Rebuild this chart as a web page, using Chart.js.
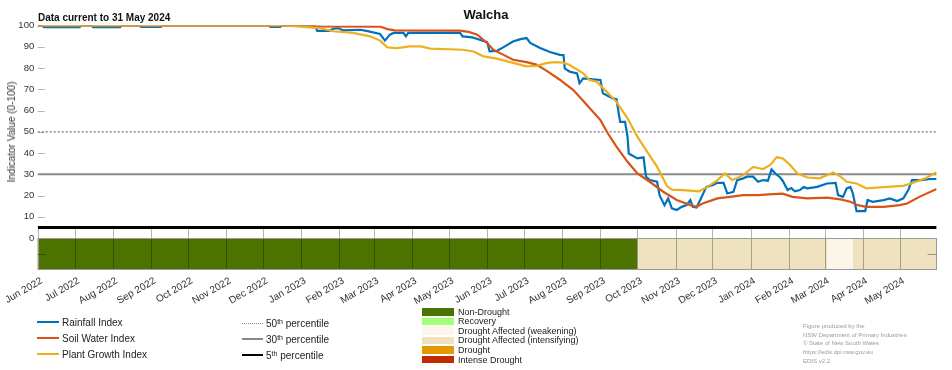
<!DOCTYPE html>
<html><head><meta charset="utf-8">
<script src="https://cdn.jsdelivr.net/npm/chart.js@4.4.1/dist/chart.umd.min.js"></script>
<style>
html,body{margin:0;padding:0;background:#fff;}
#wrap{position:relative;width:952px;height:370px;font-family:"Liberation Sans",Arial,sans-serif;color:#222;overflow:hidden;}
#c{position:absolute;left:0;top:0;}
.t{position:absolute;white-space:nowrap;line-height:1;}
.row{position:absolute;display:flex;align-items:center;white-space:nowrap;}
sup{font-size:70%;line-height:0;vertical-align:0.45em;}
</style></head><body>
<div id="wrap">
<canvas id="c" width="952" height="370"></canvas>
<div class="t" style="left:38px;top:13px;font-size:10px;font-weight:bold;color:#111;">Data current to 31 May 2024</div>
<div class="t" style="left:486px;top:8px;font-size:13px;font-weight:bold;color:#111;transform:translateX(-50%);">Walcha</div>
<div class="t" style="left:12px;top:132px;font-size:10px;color:#333;transform:translate(-50%,-50%) rotate(-90deg);">Indicator Value (0-100)</div>
<div id="legA"></div><div id="legB"></div><div id="legC"></div><div id="credits"></div>
</div>
<script>
// ---------- data ----------
const monthLabels = ["Jun 2022","Jul 2022","Aug 2022","Sep 2022","Oct 2022","Nov 2022","Dec 2022","Jan 2023","Feb 2023","Mar 2023","Apr 2023","May 2023","Jun 2023","Jul 2023","Aug 2023","Sep 2023","Oct 2023","Nov 2023","Dec 2023","Jan 2024","Feb 2024","Mar 2024","Apr 2024","May 2024"];
// day offsets from 1 Jun 2022
const monthDays = [0,30,61,92,122,153,183,214,245,273,304,334,365,395,426,457,487,518,548,579,610,639,670,700];
const lastDay = 730; // 31 May 2024

// [day, value]
const rainfallIndex = [[0,100],[4,100],[5,99.2],[34,99.2],[35,100],[44,100],[45,99.2],[67,99.2],[68,100],[83,100],[84,99.3],[100,99.3],[101,100],[188,100],[189,99.3],[197,99.3],[198,100],[225,100],[227,97.5],[237,97.5],[240,98.5],[244,98.8],[248,97.7],[262,98],[267,97.5],[278,96],[282,92.9],[286,95.7],[289,96.5],[297,96.5],[299,94.9],[301,96.5],[343,96.5],[345,94.9],[353,94.4],[359,93.3],[365,92.2],[367,87.8],[373,88.1],[378,89.7],[386,92.5],[392,93.6],[397,94.1],[400,91.8],[408,89.4],[416,87.5],[424,86.2],[427,86.1],[428,79.8],[432,78.3],[438,77.5],[440,72.8],[443,75.1],[451,74.7],[457,74.4],[459,68.1],[467,65.7],[470,65.3],[473,54.7],[477,54.7],[479,47.7],[480,39.8],[487,37.5],[492,38],[494,28.9],[497,27.3],[503,26.5],[505,20.2],[509,15.5],[512,18.7],[515,14],[519,13.2],[523,14.7],[527,15.5],[530,17.9],[532,14.7],[535,14.4],[538,17.9],[543,24.1],[548,24.9],[552,26],[557,26],[560,21],[565,21.8],[568,27.3],[573,28.1],[576,28.9],[581,28.9],[585,26.5],[589,27.3],[593,27],[596,32.3],[599,30.4],[603,28.5],[605,27],[609,22.6],[612,23.5],[615,22],[619,22.6],[622,24],[625,23.4],[633,24.1],[641,25.7],[648,26],[650,20.2],[654,19.4],[657,23.4],[660,24.1],[662,21],[665,12.7],[672,12.7],[674,17.9],[678,17.1],[687,17.9],[692,18.7],[698,17.4],[703,18.7],[707,22.6],[710,27.3],[717,27.3],[725,27.8],[730,27.8]];
const soilWaterIndex = [[0,100],[213,100],[230,99.6],[278,99.5],[284,98.3],[290,97.7],[343,97.6],[350,97],[357,95.7],[365,91.8],[370,88.6],[378,86.3],[386,83.9],[397,82.8],[405,81.6],[414,78.4],[424,74.5],[435,69.6],[446,62.6],[457,55.5],[463,49.3],[470,43],[479,35.9],[487,30.4],[497,26.5],[508,21.8],[519,17.9],[530,15.5],[535,14.7],[540,16.3],[552,18.7],[562,19.4],[573,20.2],[585,20.2],[597,20.7],[605,20.9],[613,19.4],[625,18.7],[641,19],[652,18.2],[660,17.1],[666,15.5],[673,14.7],[687,14.7],[700,15.5],[706,16.3],[716,19.4],[730,23.1]];
const plantGrowthIndex = [[0,100],[200,100],[229,98.8],[240,97.3],[256,96.5],[270,94.9],[278,92.9],[284,89.7],[292,89.4],[302,90.2],[311,90.2],[319,89.1],[345,88.6],[354,87.8],[362,85.5],[373,84.4],[386,82.4],[397,80.8],[405,81],[414,82.4],[420,82.8],[427,82.5],[432,81.4],[443,77.5],[448,74.4],[454,73.6],[462,68.9],[470,64.1],[479,56.3],[487,47.7],[495,40.6],[503,33.6],[511,24.5],[515,22.8],[524,22.6],[537,22],[544,24.1],[552,27.3],[558,30.4],[564,27.3],[573,29.6],[581,33.5],[589,32.5],[595,34.4],[600,38],[605,37.5],[611,34.4],[617,30.4],[625,28.5],[635,28.1],[646,30.9],[652,28.9],[657,26.5],[665,25.7],[673,23.4],[690,24.1],[703,24.6],[711,26],[722,28.4],[730,31]];

const percentileValues = [50, 30, 5];
const percentileLabels = ["50", "30", "5"];

const droughtLabels = ["Non-Drought","Recovery","Drought Affected (weakening)","Drought Affected (intensifying)","Drought","Intense Drought"];
const droughtColors = ["#4C7300","#A3FF73","#FCF5EA","#EEE2BF","#E69800","#C22A00"];
// drought category strip segments
const stripStart = [0, 487, 641, 662];
const stripEnd   = [487, 641, 662, 730];
const stripClass = [0, 3, 2, 3];
const stripBottom = -15;

const yTicks = [0,10,20,30,40,50,60,70,80,90,100];

// ---------- styles ----------
const seriesNames = ["Rainfall Index","Soil Water Index","Plant Growth Index"];
const seriesColors = ["#0072BD","#D95319","#EDB120"];
const pctColors = ["#888888","#888888","#000000"];
const pctWidths = [1.5, 2, 3];

const toXY = a => a.map(p => ({x:p[0], y:p[1]}));

const stripPlugin = {
  id:'strip',
  beforeDatasetsDraw(chart){
    const {ctx, scales:{x,y}, chartArea:a} = chart;
    const y0 = y.getPixelForValue(0), yb = y.getPixelForValue(stripBottom), y5 = y.getPixelForValue(5);
    ctx.save();
    for (let i=0;i<stripStart.length;i++){
      const x1 = x.getPixelForValue(stripStart[i]), x2 = x.getPixelForValue(stripEnd[i]);
      ctx.fillStyle = droughtColors[stripClass[i]];
      ctx.fillRect(x1, y0, x2-x1, yb-y0);
    }
    ctx.lineWidth = 1;
    ctx.strokeStyle = 'rgba(0,0,0,0.3)';
    monthDays.forEach(d=>{
      const px = Math.round(x.getPixelForValue(d))+0.5;
      ctx.beginPath(); ctx.moveTo(px,y5); ctx.lineTo(px,yb); ctx.stroke();
    });
    ctx.strokeStyle = '#9a9a9a';
    ctx.strokeRect(Math.round(a.left)+0.5, Math.round(y0)+0.5, Math.round(a.right-a.left)-1, Math.round(yb-y0)-1);
    // inward tick marks
    ctx.strokeStyle = '#b5b5b5';
    yTicks.forEach(v=>{
      if (v===0) return;
      const py = Math.round(y.getPixelForValue(v))+0.5;
      ctx.beginPath(); ctx.moveTo(a.left, py); ctx.lineTo(a.left+7, py); ctx.stroke();
    });
    const pm = Math.round(y.getPixelForValue(stripBottom/2))+0.5;
    ctx.strokeStyle = 'rgba(0,0,0,0.35)';
    ctx.beginPath(); ctx.moveTo(a.left, pm); ctx.lineTo(a.left+8, pm); ctx.stroke();
    ctx.beginPath(); ctx.moveTo(a.right-9, pm); ctx.lineTo(a.right, pm); ctx.stroke();
    ctx.restore();
  }
};

const datasets = [
  {label:seriesNames[2], data:toXY(plantGrowthIndex), borderColor:seriesColors[2], order:1},
  {label:seriesNames[1], data:toXY(soilWaterIndex), borderColor:seriesColors[1], order:2},
  {label:seriesNames[0], data:toXY(rainfallIndex), borderColor:seriesColors[0], order:3},
].map(d=>Object.assign(d,{borderWidth:2.2, pointRadius:0, tension:0, fill:false}));
percentileValues.forEach((v,i)=>{
  datasets.push({label:percentileLabels[i]+'th percentile', data:[{x:0,y:v},{x:lastDay,y:v}],
    borderColor:pctColors[i], borderWidth:pctWidths[i], borderDash:i===0?[2,2]:[], pointRadius:0, order:4+i});
});

new Chart(document.getElementById('c'), {
  type:'line',
  data:{datasets},
  plugins:[stripPlugin],
  options:{
    responsive:false, animation:false, devicePixelRatio:1,
    layout:{padding:{top:25.5, right:15.4, left:0, bottom:0}},
    plugins:{legend:{display:false}, tooltip:{enabled:false}, title:{display:false}},
    scales:{
      x:{type:'linear', min:0, max:lastDay,
        afterBuildTicks:s=>{s.ticks = monthDays.map(v=>({value:v}));},
        afterFit:s=>{s.height = 100; s.paddingLeft = 0; s.paddingRight = 0;},
        grid:{display:false, drawTicks:false}, border:{display:false},
        ticks:{autoSkip:false, maxRotation:30, minRotation:30, padding:5, labelOffset:4, color:'#333',
          font:{family:'"Liberation Sans", Arial, sans-serif', size:10},
          callback:(v,i)=>monthLabels[i]}},
      y:{type:'linear', min:stripBottom, max:100,
        afterBuildTicks:s=>{s.ticks = yTicks.map(v=>({value:v}));},
        afterFit:s=>{s.width = 37.7;},
        grid:{display:false, drawTicks:false}, border:{display:false},
        ticks:{padding:3.5, color:'#333', font:{family:'"Liberation Sans", Arial, sans-serif', size:9.5}}}
    }
  }
});

// ---------- HTML legends ----------
const legA = document.getElementById('legA');
const rowYA = [322, 338, 354];
seriesNames.forEach((n,i)=>{
  const r = document.createElement('div'); r.className='row';
  r.style.cssText = `left:37px;top:${rowYA[i]-7}px;height:14px;font-size:10px;color:#222;`;
  r.innerHTML = `<span style="display:inline-block;width:22px;height:2px;background:${seriesColors[i]};margin-right:3px;"></span>${n}`;
  legA.appendChild(r);
});
const legB = document.getElementById('legB');
const rowYB = [323, 339, 355];
percentileLabels.forEach((p,i)=>{
  const r = document.createElement('div'); r.className='row';
  r.style.cssText = `left:242px;top:${rowYB[i]-7}px;height:14px;font-size:10px;color:#222;`;
  const line = i===0
    ? `<span style="display:inline-block;width:21px;height:0;border-top:1.5px dotted #888;margin-right:3px;"></span>`
    : `<span style="display:inline-block;width:21px;height:${pctWidths[i]-0.5}px;background:${pctColors[i]};margin-right:3px;"></span>`;
  r.innerHTML = `${line}<span>${p}<sup>th</sup> percentile</span>`;
  legB.appendChild(r);
});
const legC = document.getElementById('legC');
droughtLabels.forEach((n,i)=>{
  const r = document.createElement('div'); r.className='row';
  r.style.cssText = `left:422px;top:${308+i*9.55}px;height:7.5px;font-size:9px;color:#222;`;
  r.innerHTML = `<span style="display:inline-block;width:32px;height:7.5px;background:${droughtColors[i]};margin-right:4px;"></span>${n}`;
  legC.appendChild(r);
});
const creditLines = ["Figure produced by the","NSW Department of Primary Industries","\u00A9 State of New South Wales","https://edis.dpi.nsw.gov.au","EDIS v2.2"];
const cr = document.getElementById('credits');
creditLines.forEach((t,i)=>{
  const d = document.createElement('div'); d.className='t';
  d.style.cssText = `left:803px;top:${323+i*8.7}px;font-size:6px;color:#9a9a9a;`;
  d.textContent = t;
  cr.appendChild(d);
});
</script>
</body></html>
